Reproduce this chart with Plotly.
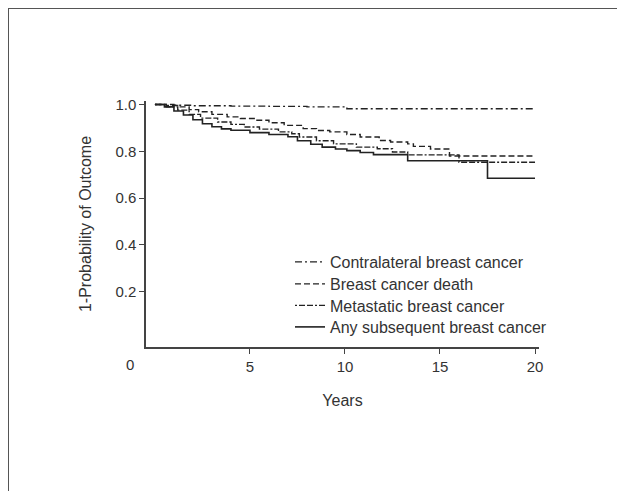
import plotly.graph_objects as go

# ---- data ----
contra_years = [0, 1, 2, 4, 6, 8, 10.1, 20]
contra_vals = [1.0, 0.997, 0.995, 0.993, 0.992, 0.99, 0.982, 0.982]

death_years = [0, 0.6, 1.2, 1.8, 2.3, 3.0, 3.8, 4.5, 5.3, 6.0, 6.8, 7.8, 8.5, 9.2,
               10.1, 10.8, 11.8, 12.4, 13.3, 13.6, 14.5, 15.5, 20.0]
death_vals = [1.0, 0.996, 0.99, 0.978, 0.969, 0.958, 0.947, 0.94, 0.933, 0.922, 0.911,
              0.897, 0.889, 0.883, 0.872, 0.861, 0.846, 0.84, 0.832, 0.821, 0.81, 0.78, 0.78]

meta_years = [0, 0.6, 1.2, 1.8, 2.4, 3.3, 4.0, 4.7, 5.5, 6.5, 7.2, 7.6, 8.5, 9.4,
              10.6, 11.7, 12.5, 13.3, 16.0, 20.0]
meta_vals = [1.0, 0.99, 0.976, 0.958, 0.942, 0.925, 0.915, 0.904, 0.895, 0.883, 0.875,
             0.861, 0.845, 0.832, 0.818, 0.811, 0.797, 0.785, 0.753, 0.753]

any_years = [0, 0.5, 1.0, 1.5, 2.0, 2.5, 3.0, 3.5, 4.0, 5.0, 6.0, 7.0, 7.5, 8.2, 8.8,
             9.5, 10.1, 10.8, 11.5, 13.3, 17.5, 20.0]
any_vals = [1.0, 0.99, 0.972, 0.955, 0.935, 0.918, 0.905, 0.896, 0.89, 0.88, 0.872,
            0.862, 0.845, 0.83, 0.818, 0.81, 0.803, 0.795, 0.786, 0.76, 0.685, 0.685]

series_names = ["Contralateral breast cancer", "Breast cancer death",
                "Metastatic breast cancer", "Any subsequent breast cancer"]

y_tickvals = [0.2, 0.4, 0.6, 0.8, 1.0]
y_ticktext = ["0.2", "0.4", "0.6", "0.8", "1.0"]
x_tickvals = [5, 10, 15, 20]
x_ticktext = ["5", "10", "15", "20"]

# ---- geometry (page pixels; the page body adds an 8px offset) ----
OFF = 8
PAGE_W, PAGE_H = 625, 491
W, H = PAGE_W - OFF, PAGE_H - OFF
P_LEFT, P_RIGHT, P_TOP, P_BOTTOM = 146, 539, 101, 347
ML = P_LEFT - OFF
MT = P_TOP - OFF
MR = W - (P_RIGHT - OFF)
MB = H - (P_BOTTOM - OFF)
pw, ph = P_RIGHT - P_LEFT, P_BOTTOM - P_TOP


def pgx(px):  # page x -> paper
    return (px - P_LEFT) / pw


def pgy(py):  # page y -> paper
    return (P_BOTTOM - py) / ph


line_color = "#222222"
family = "Liberation Sans, Arial, sans-serif"
text_color = "#333333"
tick_font = dict(family=family, size=15, color=text_color)
title_font = dict(family=family, size=16, color=text_color)
legend_font = dict(family=family, size=16, color=text_color)

fig = go.Figure()
styles = [
    dict(dash="7px,3px,2px,3px", width=1.4),
    dict(dash="6px,3px", width=1.4),
    dict(dash="2px,2px,6px,2px,6px,2px", width=1.4),
    dict(dash="solid", width=1.6),
]
legend_ids = ["legend", "legend2", "legend3", "legend4"]
legend_rows = [262, 284, 305.5, 327]
data = [(contra_years, contra_vals), (death_years, death_vals),
        (meta_years, meta_vals), (any_years, any_vals)]
for (xs, ys), name, st, lid in zip(data, series_names, styles, legend_ids):
    fig.add_trace(go.Scatter(
        x=xs, y=ys, mode="lines", name=name, legend=lid,
        line=dict(color=line_color, width=st["width"], dash=st["dash"], shape="hv"),
    ))

# outer frame (top and left edges of the image)
frame = dict(color="#555555", width=2)
fig.add_shape(type="line", xref="paper", yref="paper",
              x0=pgx(8), x1=pgx(PAGE_W + 10), y0=pgy(8), y1=pgy(8), line=frame)
fig.add_shape(type="line", xref="paper", yref="paper",
              x0=pgx(8), x1=pgx(8), y0=pgy(8), y1=pgy(PAGE_H + 10), line=frame)

# origin label "0"
fig.add_annotation(text="0", x=pgx(130), xref="paper", y=0, yref="paper",
                   xanchor="center", yanchor="middle", yshift=-17,
                   showarrow=False, font=tick_font)

legend_layout = {}
for lid, row in zip(legend_ids, legend_rows):
    legend_layout[lid] = dict(x=pgx(290), y=pgy(row), xanchor="left", yanchor="middle",
                              bgcolor="rgba(0,0,0,0)", font=legend_font,
                              itemwidth=30)

fig.update_layout(
    width=W, height=H,
    margin=dict(l=ML, r=MR, t=MT, b=MB),
    plot_bgcolor="white", paper_bgcolor="white",
    font=dict(family=family, size=15, color=text_color),
    showlegend=True,
    xaxis=dict(range=[-0.47, 20.21], tickvals=x_tickvals, ticktext=x_ticktext,
               showgrid=False, zeroline=False, showline=True, linecolor="#444444",
               linewidth=1.5, ticks="outside", ticklen=5, tickcolor="#444444",
               tickfont=tick_font,
               title=dict(text="Years", standoff=21, font=title_font), automargin=False),
    yaxis=dict(range=[-0.036, 1.015], tickvals=y_tickvals, ticktext=y_ticktext,
               showgrid=False, zeroline=False, showline=True, linecolor="#444444",
               linewidth=1.5, ticks="outside", ticklen=5, tickcolor="#444444",
               tickfont=tick_font,
               title=dict(text="1-Probability of Outcome", standoff=20, font=title_font),
               automargin=False),
    **legend_layout,
)

fig.write_html("out.html")
